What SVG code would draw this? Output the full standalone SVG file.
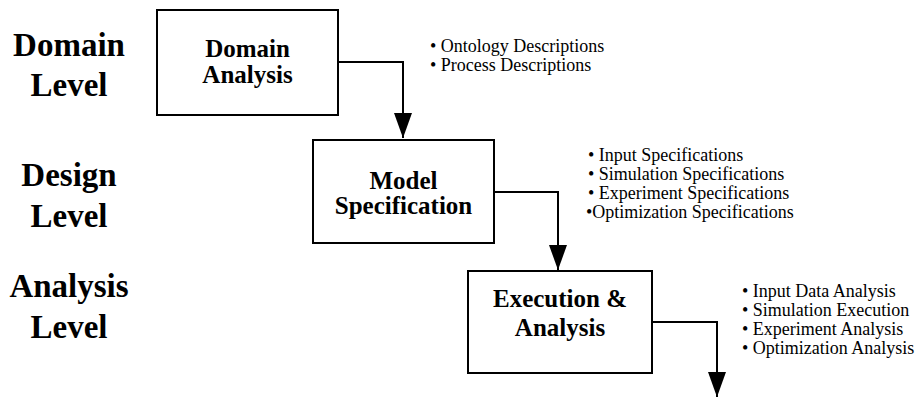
<svg xmlns="http://www.w3.org/2000/svg" width="922" height="398" viewBox="0 0 922 398">
  <style>
    .level { font-family: "Liberation Serif", "Times New Roman", serif; font-weight: bold; font-size: 33px; fill: #000; text-anchor: middle; }
    .box rect { fill: #fff; stroke: #000; stroke-width: 2; }
    .box text { font-family: "Liberation Serif", "Times New Roman", serif; font-weight: bold; font-size: 25px; fill: #000; text-anchor: middle; }
    .notes text { font-family: "Liberation Serif", "Times New Roman", serif; font-size: 18px; fill: #000; }
    .link { fill: none; stroke: #000; stroke-width: 2; }
  </style>
  <defs>
    <!-- solid triangular head, drawn along +x so orient="auto" follows the line -->
    <marker id="head" markerUnits="userSpaceOnUse" markerWidth="26" markerHeight="20" refX="25" refY="9" orient="auto" viewBox="0 0 26 18">
      <path d="M0 0 L25 9 L0 18 Z" fill="#000"/>
    </marker>
  </defs>
  <rect width="922" height="398" fill="#fff"/>

  <!-- level labels -->
  <g id="levels">
    <text class="level" x="69" y="56">Domain</text>
    <text class="level" x="69" y="96">Level</text>
    <text class="level" x="69" y="186">Design</text>
    <text class="level" x="69" y="227">Level</text>
    <text class="level" x="69" y="297">Analysis</text>
    <text class="level" x="69" y="338">Level</text>
  </g>

  <!-- process steps -->
  <g id="domain-analysis" class="box">
    <rect x="157" y="10" width="181" height="105"/>
    <text x="247.5" y="57">Domain</text>
    <text x="247.5" y="83">Analysis</text>
  </g>
  <g id="model-specification" class="box">
    <rect x="313" y="140" width="181" height="103"/>
    <text x="403.5" y="189">Model</text>
    <text x="403.5" y="214">Specification</text>
  </g>
  <g id="execution-analysis" class="box">
    <rect x="468" y="271" width="184" height="102"/>
    <text x="560" y="307">Execution &amp;</text>
    <text x="560" y="336">Analysis</text>
  </g>

  <!-- connectors -->
  <g id="connectors">
    <path class="link" d="M338 62 H403 V138" marker-end="url(#head)"/>
    <path class="link" d="M494 192 H558 V270" marker-end="url(#head)"/>
    <path class="link" d="M652 322 H717 V397" marker-end="url(#head)"/>
  </g>

  <!-- step notes -->
  <g id="notes-domain" class="notes">
    <text x="430" y="52">• Ontology Descriptions</text>
    <text x="430" y="71">• Process Descriptions</text>
  </g>
  <g id="notes-design" class="notes">
    <text x="588" y="161">• Input Specifications</text>
    <text x="588" y="180">• Simulation Specifications</text>
    <text x="588" y="199">• Experiment Specifications</text>
    <text x="586" y="218">•Optimization Specifications</text>
  </g>
  <g id="notes-analysis" class="notes">
    <text x="742" y="297">• Input Data Analysis</text>
    <text x="742" y="316">• Simulation Execution</text>
    <text x="742" y="335">• Experiment Analysis</text>
    <text x="742" y="354">• Optimization Analysis</text>
  </g>
</svg>
